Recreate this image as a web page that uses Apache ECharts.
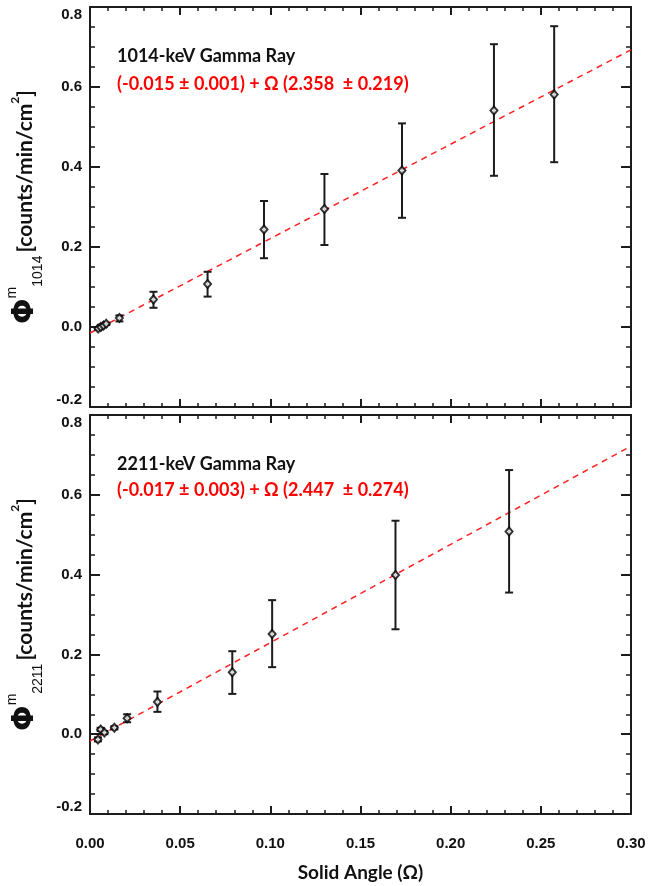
<!DOCTYPE html>
<html>
<head>
<meta charset="utf-8">
<title>Gamma ray flux vs solid angle</title>
<script src="https://cdn.jsdelivr.net/npm/echarts@6/dist/echarts.min.js"></script>
<style>
  html, body { margin: 0; padding: 0; background: #fff; }
  #chart { width: 648px; height: 886px; }
</style>
</head>
<body>
<div id="chart"></div>
<script>
// 1014-keV panel
const topOmega = [0.0045, 0.0060, 0.0075, 0.0090, 0.0163, 0.0352, 0.0652, 0.0965, 0.130, 0.173, 0.224, 0.2574]
const topFlux = [-0.004, 0.000, 0.004, 0.008, 0.0225, 0.069, 0.1075, 0.244, 0.295, 0.391, 0.541, 0.581]
const topErrLow = [-0.007, -0.003, 0.001, 0.005, 0.014, 0.048, 0.076, 0.172, 0.205, 0.273, 0.378, 0.412]
const topErrHigh = [-0.001, 0.003, 0.007, 0.011, 0.029, 0.088, 0.138, 0.315, 0.3825, 0.509, 0.707, 0.752]
const topFitEnds = [[0, -0.015], [0.30, 0.693]]

// 2211-keV panel
const botOmega = [0.0044, 0.0059, 0.0080, 0.0135, 0.0206, 0.0374, 0.0789, 0.101, 0.1694, 0.2324]
const botFlux = [-0.013, 0.012, 0.004, 0.016, 0.040, 0.081, 0.155, 0.251, 0.399, 0.508]
const botErrLow = [-0.018, 0.008, 0.000, 0.012, 0.030, 0.056, 0.101, 0.168, 0.263, 0.355]
const botErrHigh = [-0.008, 0.016, 0.008, 0.020, 0.050, 0.107, 0.208, 0.336, 0.535, 0.662]
const botFitEnds = [[0, -0.017], [0.30, 0.722]]

const xTicks = { min: 0, max: 0.30, interval: 0.05 }
const yTicks = { min: -0.2, max: 0.8, interval: 0.2 }

const topTitle = '1014-keV Gamma Ray'
const topFormula = '(-0.015 ± 0.001) + Ω (2.358  ± 0.219)'
const botTitle = '2211-keV Gamma Ray'
const botFormula = '(-0.017 ± 0.003) + Ω (2.447  ± 0.274)'

const frameColor = '#1c1c1c'
const labelFont = 'Liberation Sans, Arial, sans-serif'
const textFont = 'Lato, Open Sans, sans-serif'

const chart = echarts.init(document.getElementById('chart'), null, { renderer: 'canvas' })

const pointsOf = (omega, flux) => omega.map((o, i) => [o, flux[i]])
const errorsOf = (omega, low, high) => omega.map((o, i) => [o, low[i], high[i]])

const xAxisFor = (gridIndex, position, withLabels) => ({
  type: 'value',
  gridIndex,
  position,
  min: xTicks.min,
  max: xTicks.max,
  interval: xTicks.interval,
  axisLine: { show: true, onZero: false, lineStyle: { color: frameColor, width: 2 } },
  axisTick: { show: true, inside: true, length: 8, lineStyle: { color: frameColor, width: 2 } },
  minorTick: { show: true, splitNumber: 5, length: 4, lineStyle: { color: frameColor, width: 1.5 } },
  splitLine: { show: false },
  axisLabel: {
    show: withLabels,
    margin: 22,
    color: '#111',
    fontFamily: labelFont,
    fontWeight: 'bold',
    fontSize: 15,
    formatter: (v) => v.toFixed(2)
  },
  name: withLabels ? 'Solid Angle (Ω)' : '',
  nameLocation: 'middle',
  nameGap: 49,
  nameTextStyle: { color: '#111', fontFamily: textFont, fontWeight: 'bold', fontSize: 19 }
})

const yNameFor = (sub) => '{phi|Φ}{sup|m}{sub|' + sub + '} {txt|[counts/min/cm}{sup2|2}{txt|]}'

const yAxisFor = (gridIndex, position, withLabels, sub) => ({
  type: 'value',
  gridIndex,
  position,
  min: yTicks.min,
  max: yTicks.max,
  interval: yTicks.interval,
  axisLine: { show: true, onZero: false, lineStyle: { color: frameColor, width: 2 } },
  axisTick: { show: true, inside: true, length: 10, lineStyle: { color: frameColor, width: 2 } },
  minorTick: { show: true, splitNumber: 4, length: 5, lineStyle: { color: frameColor, width: 1.5 } },
  splitLine: { show: false },
  axisLabel: {
    show: withLabels,
    margin: 8,
    color: '#111',
    fontFamily: labelFont,
    fontWeight: 'bold',
    fontSize: 15,
    verticalAlignMinLabel: 'bottom',
    verticalAlignMaxLabel: 'top',
    formatter: (v) => v.toFixed(1)
  },
  name: withLabels ? yNameFor(sub) : '',
  nameLocation: 'middle',
  nameRotate: 90,
  nameGap: 40,
  nameTextStyle: {
    color: '#111',
    fontFamily: textFont,
    rich: {
      phi: { fontSize: 30, fontWeight: 'bold', fontFamily: 'DejaVu Sans, sans-serif', lineHeight: 40, color: '#111' },
      sup: { fontSize: 14, verticalAlign: 'top', fontFamily: labelFont, color: '#111' },
      sub: { fontSize: 14, verticalAlign: 'bottom', fontFamily: labelFont, color: '#111' },
      txt: { fontSize: 21, fontFamily: textFont, fontWeight: 'bold', color: '#111' },
      sup2: { fontSize: 12, verticalAlign: 'top', padding: [4, 0, 0, 0], fontFamily: textFont, fontWeight: 'bold', color: '#111' }
    }
  }
})

const errorBarRender = (params, api) => {
  const x = api.value(0)
  const low = api.coord([x, api.value(1)])
  const high = api.coord([x, api.value(2)])
  const cap = 4
  const style = { stroke: frameColor, lineWidth: 2 }
  return {
    type: 'group',
    children: [
      { type: 'line', shape: { x1: high[0], y1: high[1], x2: low[0], y2: low[1] }, style },
      { type: 'line', shape: { x1: high[0] - cap, y1: high[1], x2: high[0] + cap, y2: high[1] }, style },
      { type: 'line', shape: { x1: low[0] - cap, y1: low[1], x2: low[0] + cap, y2: low[1] }, style }
    ]
  }
}

const panelSeries = (axisIndex, omega, flux, low, high, fitEnds) => [
  {
    type: 'line',
    xAxisIndex: axisIndex,
    yAxisIndex: axisIndex,
    data: fitEnds,
    symbol: 'none',
    silent: true,
    z: 1,
    lineStyle: { color: '#ff2020', width: 1.5, type: [6, 5] }
  },
  {
    type: 'custom',
    xAxisIndex: axisIndex,
    yAxisIndex: axisIndex,
    data: errorsOf(omega, low, high),
    encode: { x: 0, y: [1, 2] },
    renderItem: errorBarRender,
    z: 2
  },
  {
    type: 'scatter',
    xAxisIndex: axisIndex,
    yAxisIndex: axisIndex,
    data: pointsOf(omega, flux),
    symbol: 'diamond',
    symbolSize: [7, 8],
    z: 3,
    itemStyle: { color: '#fff', borderColor: '#000', borderWidth: 2 }
  }
]

const textBlock = (left, top, text, color) => ({
  type: 'text',
  left,
  top,
  style: { text, fill: color, font: 'bold 18px ' + textFont }
})

chart.setOption({
  backgroundColor: '#fff',
  animation: false,
  grid: [
    { left: 90, top: 7, width: 541, height: 400, outerBoundsMode: 'none' },
    { left: 90, top: 415, width: 541, height: 399, outerBoundsMode: 'none' }
  ],
  xAxis: [
    xAxisFor(0, 'bottom', false),
    xAxisFor(0, 'top', false),
    xAxisFor(1, 'bottom', true),
    xAxisFor(1, 'top', false)
  ],
  yAxis: [
    yAxisFor(0, 'left', true, '1014'),
    yAxisFor(0, 'right', false),
    yAxisFor(1, 'left', true, '2211'),
    yAxisFor(1, 'right', false)
  ],
  graphic: [
    textBlock(117, 47, topTitle, '#111'),
    textBlock(117, 75, topFormula, '#ff0000'),
    textBlock(117, 455, botTitle, '#111'),
    textBlock(117, 481, botFormula, '#ff0000')
  ],
  series: [
    ...panelSeries(0, topOmega, topFlux, topErrLow, topErrHigh, topFitEnds),
    ...panelSeries(2, botOmega, botFlux, botErrLow, botErrHigh, botFitEnds)
  ]
})
</script>
</body>
</html>
